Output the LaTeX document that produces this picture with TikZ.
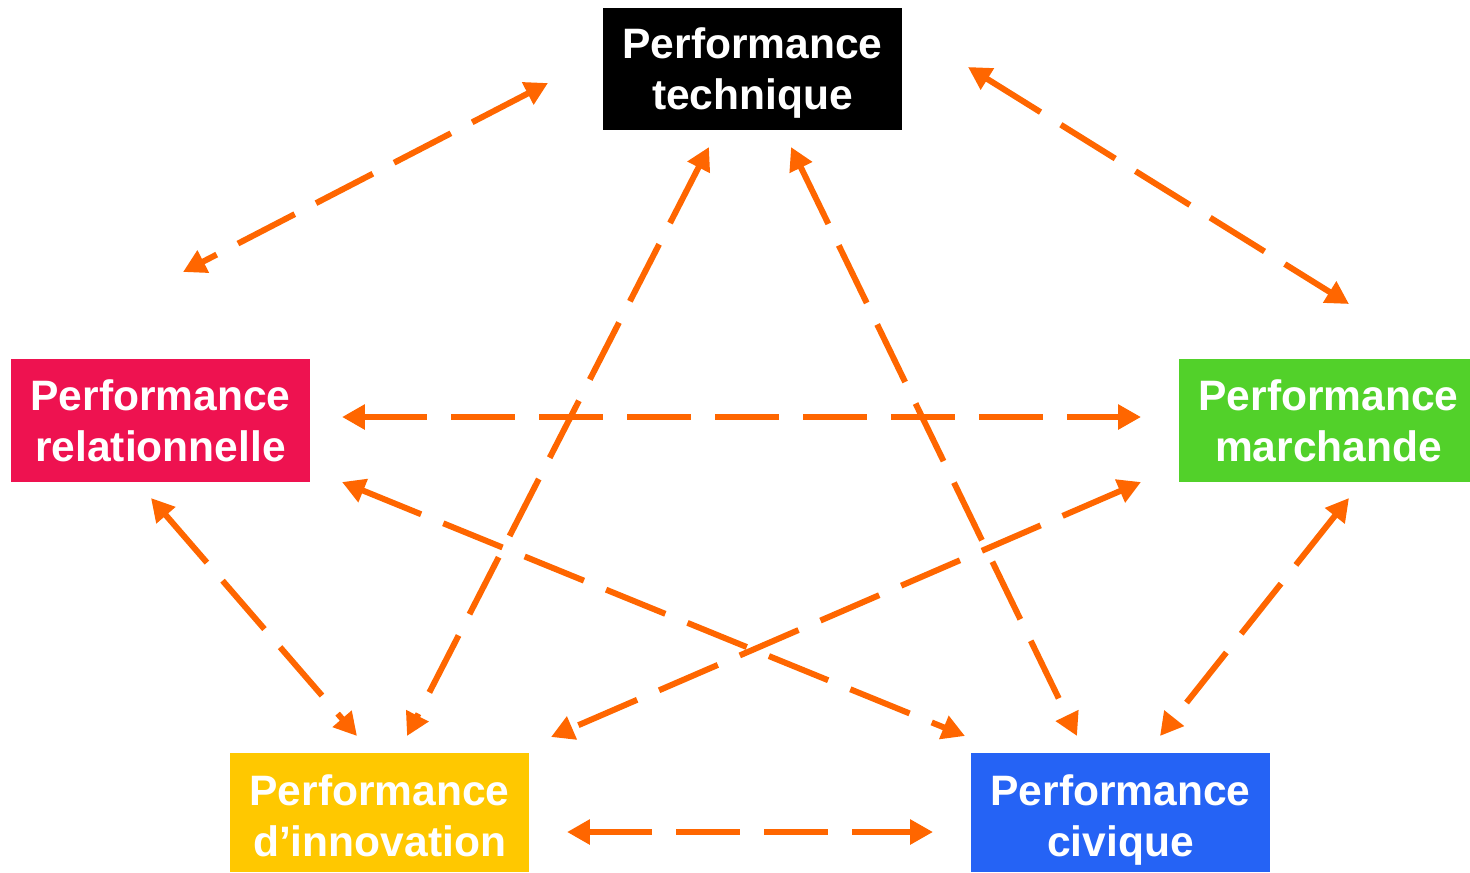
\documentclass[tikz,border=0pt]{standalone}
\usepackage{fontspec}
\setmainfont{Liberation Sans}
\usetikzlibrary{arrows.meta}
\definecolor{arr}{HTML}{FF6600}
\definecolor{cred}{HTML}{EE1250}
\definecolor{cgreen}{HTML}{52D12A}
\definecolor{cyellow}{HTML}{FFC800}
\definecolor{cblue}{HTML}{2563F5}
\begin{document}
\begin{tikzpicture}[x=0.01cm,y=-0.01cm,
  perfbox/.style={fill=#1,inner sep=0pt,minimum width=2.99cm,minimum height=1.22cm},
  perftext/.style={inner sep=0pt,text=white,align=center,
    font=\fontsize{12.1pt}{14.5pt}\selectfont\bfseries},
  link/.style={draw=arr,line width=1.7pt,dash pattern=on 18.2pt off 6.8pt,
    {Triangle[length=6.5pt,width=6.8pt]}-{Triangle[length=6.5pt,width=6.8pt]}}]
\useasboundingbox (0,0) rectangle (1470,872);
\node[perfbox=black] (tech) at (752.5,69) {};
\node[perfbox=cred] (rel) at (160.5,420.5) {};
\node[perfbox=cgreen,minimum width=2.91cm] (mar) at (1324.5,420.5) {};
\node[perfbox=cyellow,minimum height=1.19cm] (inn) at (379.5,812.5) {};
\node[perfbox=cblue,minimum height=1.19cm] (civ) at (1120.5,812.5) {};
\node[perftext] (techT) at ([shift={(0,4)}]tech.center) {Performance\\technique};
\node[perftext] (relT) at ([shift={(0,0)}]rel.center) {Performance\\relationnelle};
\node[perftext] (marT) at ([shift={(4,0)}]mar.center) {Performance\\marchande};
\node[perftext] (innT) at ([shift={(0,3)}]inn.center) {Performance\\d’innovation};
\node[perftext] (civT) at ([shift={(0,7)}]civ.center) {Performance\\civique};
% arrow end points
\coordinate (a1) at (548,83);   \coordinate (b1) at (183,272);
\coordinate (a2) at (968,67);   \coordinate (b2) at (1349,304);
\coordinate (a3) at (709,147);  \coordinate (b3) at (407,736);
\coordinate (a4) at (791,147);  \coordinate (b4) at (1077,736);
\coordinate (a5) at (342,417);  \coordinate (b5) at (1141,417);
\coordinate (a6) at (342,482);  \coordinate (b6) at (965,736);
\coordinate (a7) at (1141,482); \coordinate (b7) at (551,737);
\coordinate (a8) at (151,498);  \coordinate (b8) at (357,736);
\coordinate (a9) at (1349,498); \coordinate (b9) at (1160,736);
\coordinate (a10) at (567,832); \coordinate (b10) at (933,832);
\foreach \i in {1,...,10} \draw[link] (a\i) -- (b\i);
\end{tikzpicture}
\end{document}
